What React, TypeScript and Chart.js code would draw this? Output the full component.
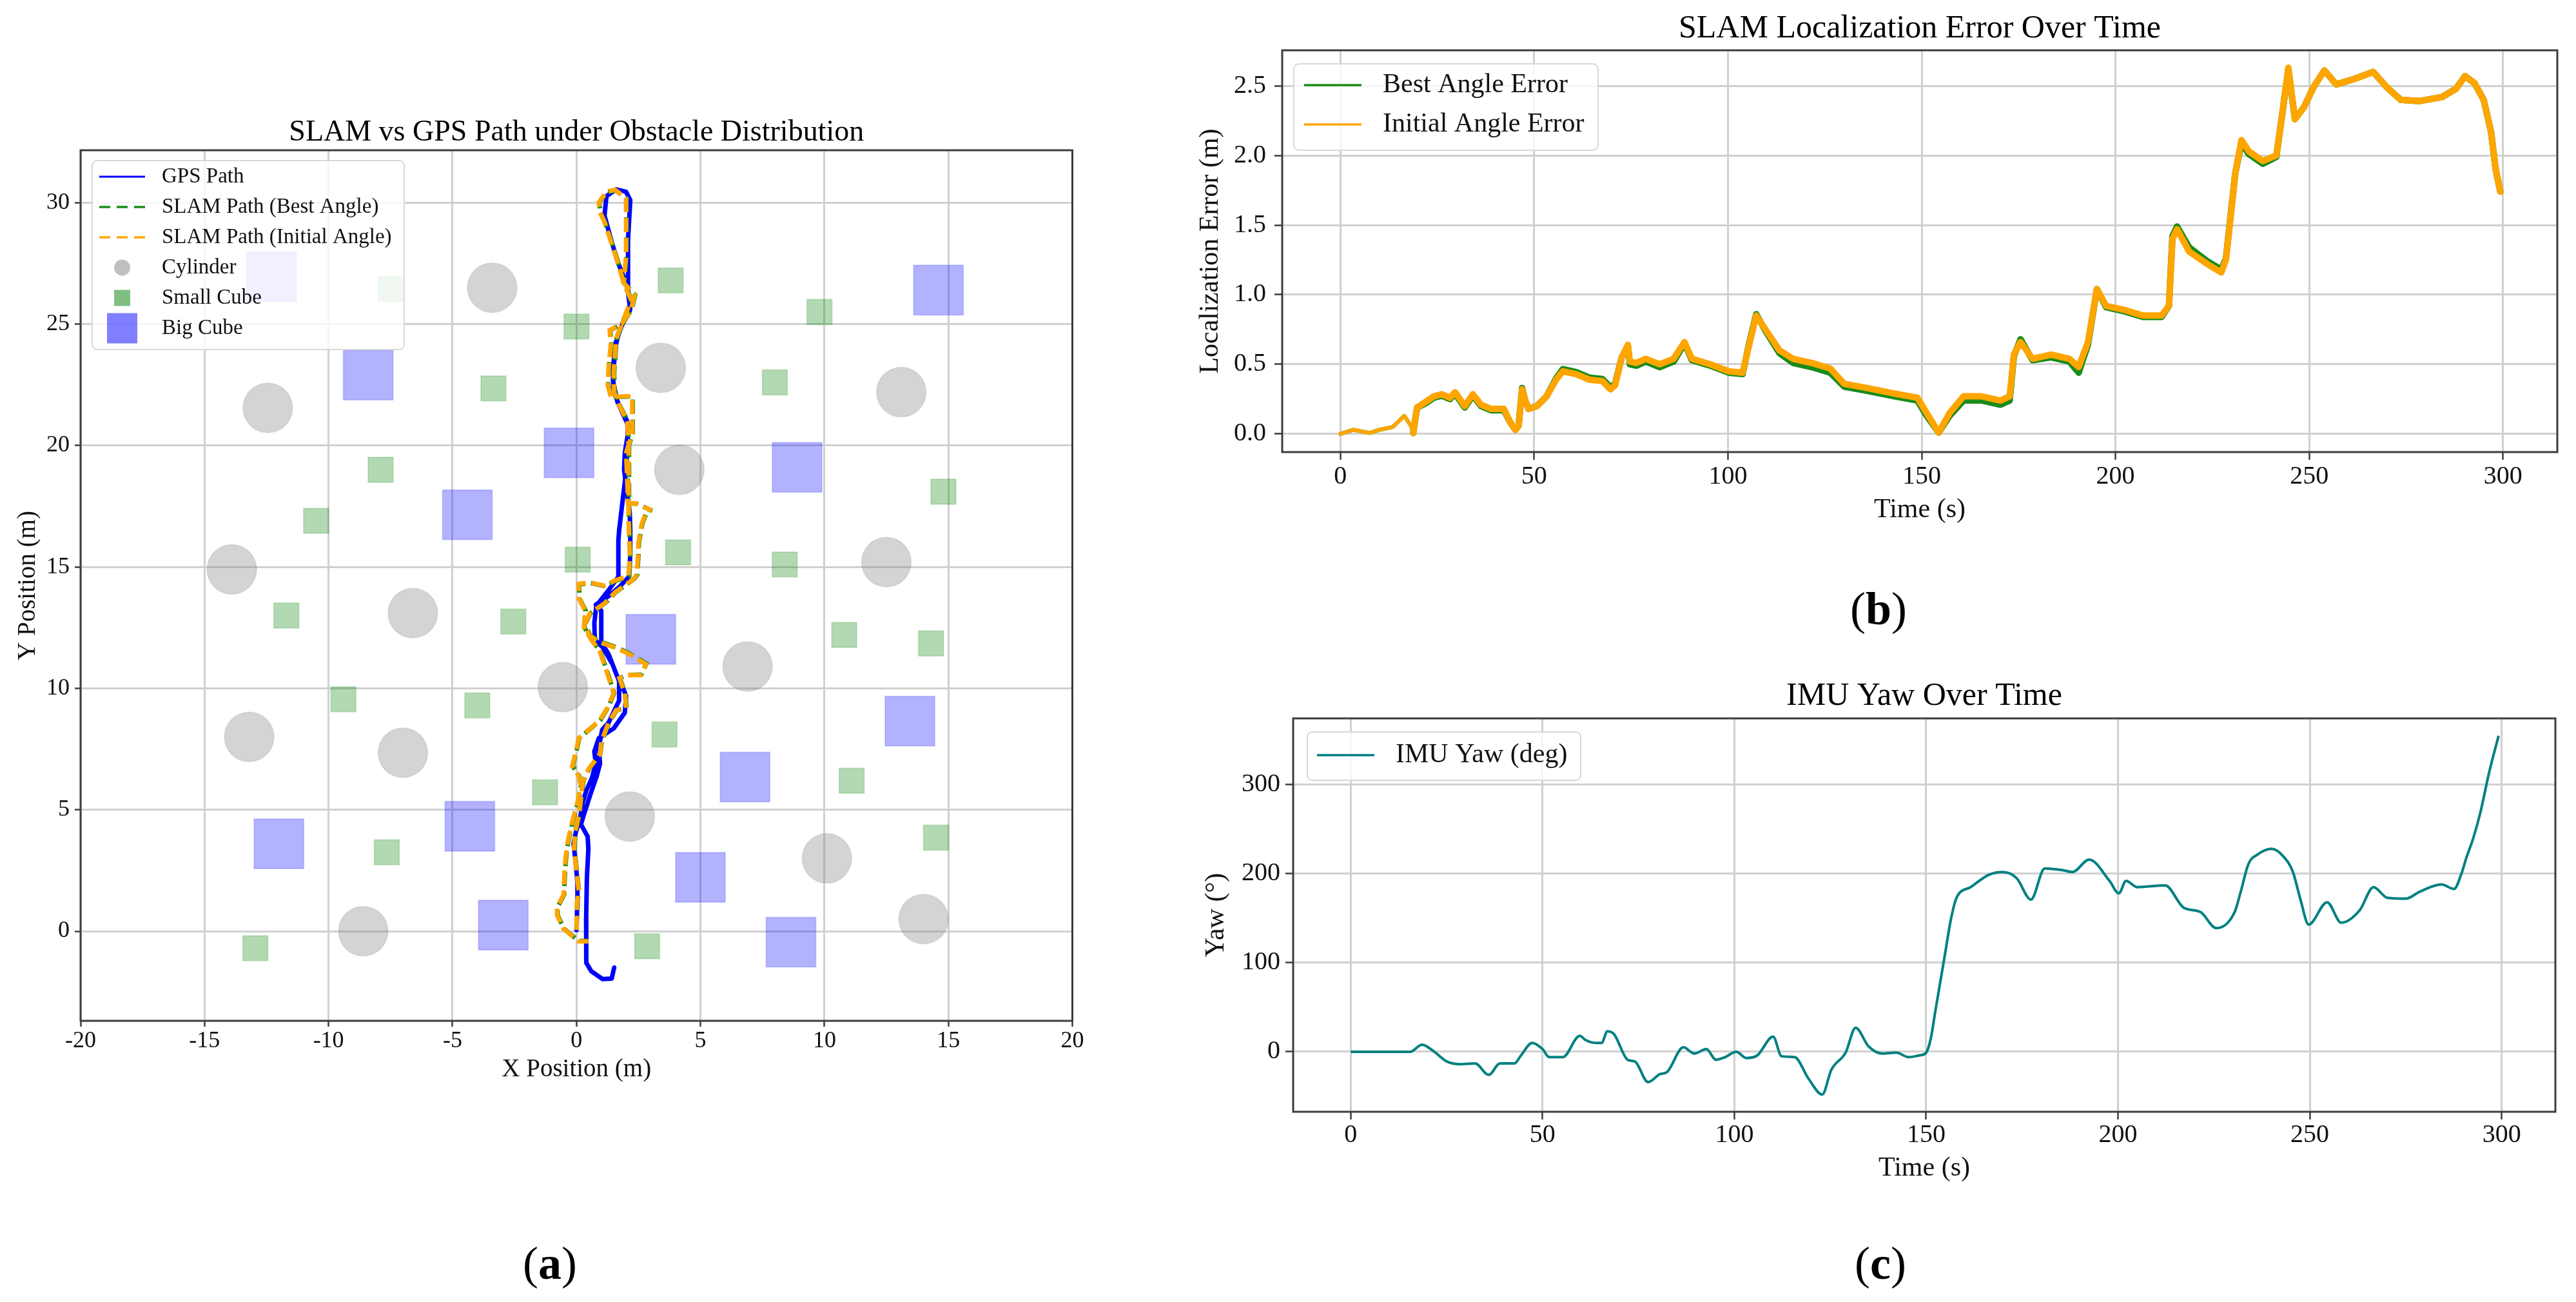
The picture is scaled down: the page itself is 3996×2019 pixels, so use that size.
import React, { useEffect, useRef } from 'react';
import { Chart, registerables } from 'chart.js';

Chart.register(...registerables);

const SERIF = "'Liberation Serif', 'Times New Roman', serif";
const GRID = '#d0d0d0';
const AXIS = '#3c3c3c';
const TEXT = '#111111';

// ---------- (a) obstacle map, metres ----------
const cylinders = [
  [-3.4, 26.5], [-12.45, 21.55], [3.4, 23.2], [13.1, 22.2], [4.15, 19.0], [12.5, 15.2],
  [-13.9, 14.9], [-6.6, 13.1], [6.9, 10.9], [-0.55, 10.05], [-13.2, 8.0], [-7.0, 7.35],
  [2.15, 4.72], [10.1, 3.0], [14.0, 0.5], [-8.6, 0.0],
];
const smallCubes = [
  [-7.5, 26.45], [3.8, 26.8], [0.0, 24.9], [9.8, 25.5], [-3.35, 22.35], [8.0, 22.6],
  [-7.9, 19.0], [14.8, 18.1], [-10.5, 16.9], [0.05, 15.3], [4.1, 15.6], [8.4, 15.1],
  [-11.7, 13.0], [-2.55, 12.75], [10.8, 12.2], [14.3, 11.85], [-9.4, 9.55], [-4.0, 9.3],
  [3.55, 8.1], [11.1, 6.2], [-1.27, 5.72], [-7.65, 3.25], [14.5, 3.85], [-12.95, -0.7],
  [2.85, -0.62],
];
const bigCubes = [
  [-12.3, 26.95], [14.6, 26.4], [-8.4, 22.9], [-0.3, 19.7], [8.9, 19.1], [-4.4, 17.15],
  [3.0, 12.02], [13.45, 8.65], [6.8, 6.35], [-4.3, 4.32], [-12.0, 3.6], [5.0, 2.22],
  [-2.95, 0.25], [8.65, -0.45],
];
const gpsPath = [
  [0.0, 0.05], [0.03, 1.0], [0.04, 2.0], [-0.05, 3.0], [-0.12, 3.6], [-0.02, 4.1], [0.12, 4.5],
  [0.25, 5.3], [0.4, 5.8], [0.62, 6.3], [0.78, 6.9], [0.72, 7.4], [0.9, 7.95], [1.5, 8.35],
  [1.95, 9.0], [2.0, 9.7], [1.78, 10.25], [1.62, 10.55], [1.3, 11.4], [1.0, 11.9], [1.0, 12.6],
  [1.0, 13.2], [0.78, 13.45], [1.3, 13.8], [1.75, 14.2], [2.12, 14.6], [2.17, 15.5], [2.17, 16.5],
  [2.15, 17.2], [2.05, 18.0], [1.92, 19.0], [1.95, 19.7], [2.12, 20.75], [1.65, 21.8], [1.47, 22.7],
  [1.56, 24.0], [1.73, 24.75], [2.17, 25.6], [2.08, 26.3], [2.08, 28.5], [2.17, 30.1], [2.0, 30.45],
  [1.6, 30.55], [1.21, 30.27], [1.13, 29.47], [1.39, 28.5], [1.65, 27.6], [2.0, 26.7],
  [2.2, 25.9], [1.85, 25.0], [1.6, 24.3], [1.47, 23.2], [1.5, 22.2], [1.75, 21.6], [2.05, 21.0],
  [2.08, 20.0], [1.95, 18.5], [1.72, 16.5], [1.69, 16.1], [1.69, 15.2], [1.69, 14.6], [1.3, 14.05],
  [0.8, 13.4], [0.72, 12.7], [0.74, 12.0], [1.05, 11.7], [1.45, 11.0], [1.72, 10.3], [1.72, 9.5],
  [1.3, 8.6], [1.04, 8.3], [0.9, 7.6], [0.95, 6.9], [0.82, 6.4], [0.55, 5.6], [0.3, 4.8],
  [0.18, 4.4], [0.45, 3.9], [0.48, 3.4], [0.42, 2.2], [0.39, 0.5], [0.39, -0.5], [0.4, -1.3],
  [0.6, -1.65], [1.05, -1.97], [1.42, -1.95], [1.52, -1.5],
];
const slamInitialPath = [
  [0.0, 0.05], [0.02, 1.2], [0.1, 1.6], [0.0, 2.5], [-0.1, 3.4], [-0.05, 4.1], [0.1, 4.8],
  [0.26, 6.2], [0.5, 6.7], [0.95, 7.3], [1.0, 7.8], [1.3, 8.6], [1.6, 9.1], [2.0, 9.2],
  [1.95, 9.8], [1.73, 10.42], [2.0, 10.55], [2.6, 10.55], [2.8, 11.0], [2.08, 11.44],
  [1.56, 11.68], [0.88, 11.92], [0.5, 12.2], [0.35, 12.7], [0.55, 13.1], [1.13, 13.5],
  [1.56, 13.96], [2.3, 14.5], [2.43, 14.67], [2.47, 15.3], [2.5, 16.0], [2.64, 16.8],
  [2.86, 17.38], [3.03, 17.33], [2.43, 17.6], [2.08, 17.64], [2.05, 18.5], [2.0, 19.7],
  [2.25, 20.5], [2.25, 21.5], [2.25, 22.04], [1.9, 22.02], [1.39, 22.0], [1.26, 22.5],
  [1.3, 23.3], [1.39, 24.2], [1.34, 24.75], [1.82, 25.0], [2.2, 25.6], [2.35, 26.2], [1.9, 26.7],
  [2.0, 27.8], [2.0, 29.4], [2.0, 30.18], [1.56, 30.53], [1.2, 30.45], [0.9, 30.0], [0.95, 29.6],
  [1.13, 29.2], [1.65, 27.6], [1.9, 26.7], [2.2, 26.0],
  [1.9, 25.2], [1.6, 24.4], [1.5, 23.0], [1.52, 22.2], [1.7, 21.7], [2.05, 21.0], [2.1, 20.0],
  [2.1, 18.5], [2.1, 17.0], [2.15, 15.5], [2.1, 14.63], [1.56, 14.45], [1.13, 14.23],
  [0.52, 14.36], [0.09, 14.3], [0.1, 13.7], [0.35, 13.2], [0.3, 12.5], [0.6, 12.0], [0.95, 11.5],
  [1.25, 10.6], [1.5, 9.8], [1.25, 9.2], [0.95, 8.7], [0.5, 8.3], [0.09, 7.95], [0.0, 7.5],
  [-0.17, 6.8], [0.09, 6.4], [0.17, 6.0], [0.04, 5.3], [-0.17, 4.5], [-0.35, 3.7], [-0.43, 3.1],
  [-0.48, 2.5], [-0.52, 1.5], [-0.78, 1.0], [-0.78, 0.66], [-0.52, 0.1], [-0.17, -0.2],
  [0.09, -0.42], [0.48, -0.42],
];
// best-angle path runs almost on top of the initial-angle one
const slamBestPath = [
  [0.0, 0.05], [0.03, 1.2], [0.11, 1.6], [0.01, 2.5], [-0.08, 3.4], [-0.04, 4.1], [0.12, 4.8],
  [0.28, 6.2], [0.52, 6.7], [0.96, 7.3], [1.02, 7.8], [1.32, 8.6], [1.62, 9.1], [2.02, 9.2],
  [1.97, 9.8], [1.75, 10.42], [2.02, 10.55], [2.62, 10.57], [2.82, 11.02], [2.1, 11.46],
  [1.58, 11.7], [0.9, 11.94], [0.52, 12.22], [0.37, 12.7], [0.57, 13.1], [1.15, 13.5],
  [1.58, 13.96], [2.32, 14.5], [2.45, 14.67], [2.49, 15.3], [2.52, 16.0], [2.66, 16.8],
  [2.88, 17.37], [3.05, 17.32], [2.45, 17.6], [2.1, 17.63], [2.07, 18.5], [2.02, 19.7],
  [2.27, 20.5], [2.27, 21.5], [2.27, 22.03], [1.92, 22.01], [1.41, 22.0], [1.28, 22.5],
  [1.32, 23.3], [1.41, 24.2], [1.36, 24.75], [1.84, 25.0], [2.22, 25.6], [2.37, 26.2], [1.92, 26.7],
  [2.02, 27.8], [2.02, 29.4], [2.02, 30.16], [1.58, 30.51], [1.22, 30.43], [0.92, 30.0], [0.97, 29.6],
  [1.15, 29.2], [1.67, 27.6], [1.92, 26.7], [2.22, 26.0],
  [1.92, 25.2], [1.62, 24.4], [1.52, 23.0], [1.54, 22.2], [1.72, 21.7], [2.07, 21.0], [2.12, 20.0],
  [2.12, 18.5], [2.12, 17.0], [2.17, 15.5], [2.12, 14.61], [1.58, 14.43], [1.15, 14.21],
  [0.54, 14.34], [0.11, 14.28], [0.12, 13.7], [0.37, 13.2], [0.32, 12.5], [0.62, 12.0], [0.97, 11.5],
  [1.27, 10.6], [1.52, 9.8], [1.27, 9.2], [0.97, 8.7], [0.52, 8.3], [0.11, 7.95], [0.02, 7.5],
  [-0.15, 6.8], [0.11, 6.4], [0.19, 6.0], [0.06, 5.3], [-0.15, 4.5], [-0.33, 3.7], [-0.41, 3.1],
  [-0.46, 2.5], [-0.5, 1.5], [-0.76, 1.0], [-0.76, 0.66], [-0.5, 0.1], [-0.15, -0.2],
  [0.1, -0.4], [0.47, -0.4],
];
const mapTicksX = [-20, -15, -10, -5, 0, 5, 10, 15, 20];
const mapTicksY = [0, 5, 10, 15, 20, 25, 30];

// ---------- (b) localization error ----------
const errTime = [
  0, 3.4, 7.6, 10.1, 13.5, 16.5, 18.2, 18.8, 19.8, 22, 24.1, 26.2, 28.3, 29.6, 32.1, 34.2, 36.3,
  38.9, 42.2, 43.9, 45.2, 46, 46.9, 47.7, 48.6, 50.7, 53.2, 55.7, 57.4, 60.8, 64.2, 67.6, 69.7,
  70.9, 72.6, 74.2, 74.7, 76.4,
  78.8, 82.4, 86, 88.8, 90.7, 95.5, 100.2, 103.8, 105.4, 107.3, 109.7, 113.3, 116.8, 121.6, 126.4,
  130, 135.9, 143, 148.9, 151.3, 154.4, 157.2, 160.8, 165.5, 170.3, 172.7, 173.8, 175.5, 178.6,
  183.4, 188.1, 190.5, 192.9, 195.2, 197.6, 202.4, 207.1, 211.9, 213.8, 214.7, 215.9, 219, 223.7,
  227.3, 228.5, 230.9, 232.5, 234.4, 238, 241.5, 242.7, 244.6, 246.3, 248.7, 251.1, 253.9, 257,
  261.7, 266.5, 270, 273.6, 278.3, 284.3, 287.9, 290.2, 292.6, 295, 296.9, 298.1, 299.3,
];
const errInitial = [
  0.0, 0.03, 0.007, 0.03, 0.05, 0.13, 0.06, 0.007, 0.19, 0.23, 0.27, 0.285, 0.26, 0.3, 0.2, 0.285,
  0.21, 0.18, 0.18, 0.08, 0.03, 0.06, 0.32, 0.24, 0.18, 0.2, 0.27, 0.39, 0.45, 0.43, 0.39, 0.38,
  0.32, 0.35, 0.55, 0.64, 0.52, 0.51,
  0.54, 0.5, 0.54, 0.66, 0.54, 0.5, 0.45, 0.44, 0.63, 0.85, 0.75, 0.6, 0.54, 0.51, 0.47, 0.36, 0.33,
  0.29, 0.26, 0.15, 0.01, 0.15, 0.27, 0.27, 0.24, 0.27, 0.57, 0.66, 0.54, 0.57, 0.54, 0.48, 0.66,
  1.04, 0.92, 0.89, 0.85, 0.85, 0.92, 1.4, 1.47, 1.31, 1.22, 1.16, 1.25, 1.87, 2.11, 2.03, 1.96,
  2.0, 2.23, 2.63, 2.26, 2.35, 2.49, 2.61, 2.51, 2.55, 2.6, 2.49, 2.4, 2.39, 2.42, 2.48, 2.57,
  2.52, 2.4, 2.17, 1.9, 1.74,
];
const errBest = [
  0.0, 0.03, 0.007, 0.03, 0.05, 0.13, 0.06, 0.007, 0.19, 0.22, 0.26, 0.275, 0.25, 0.29, 0.19,
  0.275, 0.2, 0.17, 0.17, 0.08, 0.03, 0.06, 0.33, 0.24, 0.18, 0.2, 0.27, 0.4, 0.465, 0.445, 0.405,
  0.395, 0.335, 0.36, 0.55, 0.63, 0.5, 0.49,
  0.52, 0.48, 0.52, 0.65, 0.53, 0.49, 0.44, 0.43, 0.64, 0.86, 0.74, 0.58, 0.51, 0.48, 0.44, 0.34,
  0.31, 0.27, 0.24, 0.13, 0.01, 0.13, 0.24, 0.24, 0.21, 0.24, 0.56, 0.68, 0.53, 0.55, 0.52, 0.44,
  0.64, 1.04, 0.91, 0.88, 0.84, 0.84, 0.92, 1.42, 1.49, 1.34, 1.24, 1.18, 1.26, 1.87, 2.09, 2.01,
  1.94, 1.99, 2.23, 2.62, 2.26, 2.35, 2.49, 2.61, 2.51, 2.55, 2.6, 2.49, 2.4, 2.39, 2.42, 2.48,
  2.57, 2.52, 2.4, 2.17, 1.9, 1.74,
];
const errTicksX = [0, 50, 100, 150, 200, 250, 300];
const errTicksY = [0, 0.5, 1, 1.5, 2, 2.5];

// ---------- (c) IMU yaw ----------
const yawTime = [
  0, 15.5, 18.6, 21.5, 25.1, 28.7, 32.4, 36, 38.9, 42.7, 44.4, 47.3, 50, 51.7, 55.3, 59.7, 61.3,
  63.8, 65.4, 66.9, 68.6, 72.2, 74.1, 77.5, 80.7, 82.4, 86.7, 89.6, 92.7, 95.2, 97.6, 100.5, 103.1,
  106, 110.1, 112.3, 115.7, 119.3, 122.9, 125.3, 129, 131.6, 135, 138.6, 142.2, 145.4, 148.3, 150,
  151.2, 152.4, 154.8, 156.5, 157.9, 161.6, 166.4, 170, 173.6, 177.3, 180.9, 185.7, 188.1, 192.5,
  197.8, 200.2, 202.1, 205, 212.3, 217.1, 221.5, 225.6, 230.4, 232, 234, 236.5, 240, 243, 245.6,
  247.5, 249.7, 254.5, 258.2, 263, 266.6, 270.2, 275, 278.7, 284.3, 287.6, 289.5, 290.8, 292.6,
  294.4, 296.8, 299.2,
];
const yawDeg = [
  0, 0, 8, 1, -11, -14, -13, -26, -13, -13, -4, 10, 3, -6, -6, 18, 13, 10, 10, 23, 20, -9, -11,
  -34, -25, -23, 5, -2, 3, -9, -6, 0, -7, -4, 17, -5, -6, -30, -48, -20, -1, 27, 6, -2, -1, -6,
  -4, -1, 15, 46, 107, 150, 173, 185, 199, 202, 195, 171, 206, 204, 202, 216, 192, 178, 192, 185,
  187, 162, 157, 139, 157, 180, 211, 222, 228, 220, 202, 172, 143, 168, 145, 159, 185, 173, 172,
  180, 188, 183, 200, 218, 240, 268, 315, 355,
];
const yawTicksX = [0, 50, 100, 150, 200, 250, 300];
const yawTicksY = [0, 100, 200, 300];

const xy = (pts: number[][]) => pts.map(([x, y]) => ({ x, y }));
const series = (t: number[], v: number[]) => t.map((x, i) => ({ x, y: v[i] }));

interface AxisSpec {
  min: number;
  max: number;
  ticks: number[];
  horizontal: boolean;
  size: number;
  tickLen: number;
  tickPad: number;
  tickSize: number;
  title: string;
  titleSize: number;
  titlePad: number;
  fmt?: (v: number) => string;
}

const axis = (s: AxisSpec) => ({
  type: 'linear',
  min: s.min,
  max: s.max,
  afterBuildTicks: (scale: any) => {
    scale.ticks = s.ticks.map((value) => ({ value }));
  },
  afterFit: (scale: any) => {
    if (s.horizontal) scale.height = s.size;
    else scale.width = s.size;
    scale.paddingLeft = 0;
    scale.paddingRight = 0;
    scale.paddingTop = 0;
    scale.paddingBottom = 0;
  },
  border: { display: false },
  grid: { color: GRID, lineWidth: 3, tickLength: s.tickLen, tickColor: AXIS, tickWidth: 2.5 },
  ticks: {
    color: TEXT,
    padding: s.tickPad,
    font: { family: SERIF, size: s.tickSize },
    callback: (v: any) => (s.fmt ? s.fmt(Number(v)) : String(v)),
  },
  title: {
    display: true,
    text: s.title,
    color: TEXT,
    font: { family: SERIF, size: s.titleSize },
    padding: s.horizontal ? { top: 0, bottom: s.titlePad } : { top: s.titlePad, bottom: 0 },
  },
});

const chartTitle = (text: string, size: number, top: number, bottom: number) => ({
  display: true,
  text,
  fullSize: false,
  color: '#000',
  font: { family: SERIF, size, weight: 'normal', lineHeight: 1 },
  padding: { top, bottom },
});

// box round the plot, like matplotlib spines
const framePlugin = {
  id: 'frame',
  afterDraw(chart: any) {
    const { ctx, chartArea: a } = chart;
    ctx.save();
    ctx.strokeStyle = AXIS;
    ctx.lineWidth = 3;
    ctx.strokeRect(a.left, a.top, a.right - a.left, a.bottom - a.top);
    ctx.restore();
  },
};

interface LegendItem {
  label: string;
  kind: 'line' | 'circle' | 'square';
  color: string;
  width?: number;
  dash?: number[];
  size?: number;
}
interface LegendCfg {
  x: number; y: number; w: number; h: number;
  first: number; step: number;
  hx0: number; hx1: number; tx: number;
  font: number;
  items: LegendItem[];
}

// legend drawn inside the plot (upper left), offsets relative to the chart area
const makeLegend = (cfg: LegendCfg) => ({
  id: 'boxLegend',
  afterDatasetsDraw(chart: any) {
    const { ctx, chartArea } = chart;
    const L = chartArea.left;
    const T = chartArea.top;
    ctx.save();
    ctx.beginPath();
    ctx.roundRect(L + cfg.x, T + cfg.y, cfg.w, cfg.h, 8);
    ctx.fillStyle = 'rgba(255,255,255,0.8)';
    ctx.fill();
    ctx.lineWidth = 2;
    ctx.strokeStyle = '#d8d8d8';
    ctx.stroke();
    cfg.items.forEach((it, i) => {
      const cy = T + cfg.first + i * cfg.step;
      const mx = L + (cfg.hx0 + cfg.hx1) / 2;
      if (it.kind === 'line') {
        ctx.beginPath();
        ctx.setLineDash(it.dash || []);
        ctx.lineWidth = it.width || 3;
        ctx.strokeStyle = it.color;
        ctx.moveTo(L + cfg.hx0, cy);
        ctx.lineTo(L + cfg.hx1, cy);
        ctx.stroke();
        ctx.setLineDash([]);
      } else if (it.kind === 'circle') {
        ctx.beginPath();
        ctx.arc(mx, cy, it.size || 10, 0, Math.PI * 2);
        ctx.fillStyle = it.color;
        ctx.fill();
      } else {
        const s = it.size || 20;
        ctx.fillStyle = it.color;
        ctx.fillRect(mx - s / 2, cy - s / 2, s, s);
      }
      ctx.font = `${cfg.font}px ${SERIF}`;
      ctx.textBaseline = 'middle';
      ctx.textAlign = 'left';
      ctx.fillStyle = TEXT;
      ctx.fillText(it.label, L + cfg.tx, cy);
    });
    ctx.restore();
  },
});

const mapConfig = (): any => ({
  type: 'scatter',
  data: {
    datasets: [
      { data: xy(slamInitialPath), showLine: true, borderColor: '#ffa500', borderWidth: 7,
        borderDash: [22, 9], pointRadius: 0, order: 0 },
      { data: xy(slamBestPath), showLine: true, borderColor: '#1a8c1a', borderWidth: 7,
        borderDash: [22, 9], pointRadius: 0, order: 1 },
      { data: xy(gpsPath), showLine: true, borderColor: '#0000ff', borderWidth: 7, pointRadius: 0,
        borderJoinStyle: 'round', borderCapStyle: 'round', order: 2 },
      { data: xy(bigCubes), pointStyle: 'rect', pointRadius: 54.5, backgroundColor: 'rgba(0,0,255,0.3)',
        borderColor: 'rgba(0,0,255,0.15)', borderWidth: 2, order: 3 },
      { data: xy(smallCubes), pointStyle: 'rect', pointRadius: 27.5, backgroundColor: 'rgba(0,128,0,0.3)',
        borderColor: 'rgba(0,128,0,0.15)', borderWidth: 2, order: 4 },
      { data: xy(cylinders), pointStyle: 'circle', pointRadius: 38.5,
        backgroundColor: 'rgba(128,128,128,0.34)', borderColor: 'rgba(128,128,128,0.15)', borderWidth: 2, order: 5 },
    ],
  },
  options: {
    responsive: false,
    animation: false,
    events: [],
    layout: { padding: { left: 0, right: 54, top: 0, bottom: 0 } },
    plugins: {
      legend: { display: false },
      tooltip: { enabled: false },
      title: chartTitle('SLAM vs GPS Path under Obstacle Distribution', 46, 183, 4),
    },
    scales: {
      x: axis({ min: -20, max: 20, ticks: mapTicksX, horizontal: true, size: 137, tickLen: 9, tickPad: 1,
        tickSize: 36, title: 'X Position (m)', titleSize: 39, titlePad: 37.6 }),
      y: axis({ min: -3.69, max: 32.16, ticks: mapTicksY, horizontal: false, size: 125, tickLen: 9, tickPad: 8,
        tickSize: 36, title: 'Y Position (m)', titleSize: 39, titlePad: 20.6 }),
    },
  },
  plugins: [
    framePlugin,
    makeLegend({
      x: 18, y: 16, w: 484, h: 293, first: 41, step: 47, hx0: 29, hx1: 100, tx: 126, font: 33,
      items: [
        { label: 'GPS Path', kind: 'line', color: '#0000ff', width: 3 },
        { label: 'SLAM Path (Best Angle)', kind: 'line', color: '#1a8c1a', width: 3.5, dash: [17, 10] },
        { label: 'SLAM Path (Initial Angle)', kind: 'line', color: '#ffa500', width: 3.5, dash: [17, 10] },
        { label: 'Cylinder', kind: 'circle', color: 'rgba(128,128,128,0.5)', size: 12.5 },
        { label: 'Small Cube', kind: 'square', color: 'rgba(0,128,0,0.5)', size: 25 },
        { label: 'Big Cube', kind: 'square', color: 'rgba(0,0,255,0.5)', size: 47 },
      ],
    }),
  ],
});

const errorConfig = (): any => ({
  type: 'line',
  data: {
    datasets: [
      { data: series(errTime, errInitial), borderColor: '#ffa500', borderWidth: 10, pointRadius: 0,
        borderJoinStyle: 'round', borderCapStyle: 'round', order: 0,
        segment: { borderWidth: (c: any) => (c.p1.parsed.x <= 19 ? 6 : 10) } },
      { data: series(errTime, errBest), borderColor: '#1a8c1a', borderWidth: 10, pointRadius: 0,
        borderJoinStyle: 'round', borderCapStyle: 'round', order: 1,
        segment: { borderWidth: (c: any) => (c.p1.parsed.x <= 19 ? 6 : 10) } },
    ],
  },
  options: {
    responsive: false,
    animation: false,
    events: [],
    layout: { padding: { left: 0, right: 29, top: 0, bottom: 0 } },
    plugins: {
      legend: { display: false },
      tooltip: { enabled: false },
      title: chartTitle('SLAM Localization Error Over Time', 50, 20, 8),
    },
    scales: {
      x: axis({ min: -15, max: 314, ticks: errTicksX, horizontal: true, size: 149, tickLen: 12, tickPad: 2,
        tickSize: 40, title: 'Time (s)', titleSize: 42, titlePad: 33.8 }),
      y: axis({ min: -0.13, max: 2.755, ticks: errTicksY, horizontal: false, size: 209, tickLen: 12, tickPad: 13,
        tickSize: 40, title: 'Localization Error (m)', titleSize: 42, titlePad: 72.8, fmt: (v) => v.toFixed(1) }),
    },
  },
  plugins: [
    framePlugin,
    makeLegend({
      x: 18, y: 21, w: 472, h: 134, first: 54, step: 61, hx0: 34, hx1: 123, tx: 156, font: 42,
      items: [
        { label: 'Best Angle Error', kind: 'line', color: '#1a8c1a', width: 3.5 },
        { label: 'Initial Angle Error', kind: 'line', color: '#ffa500', width: 3.5 },
      ],
    }),
  ],
});

const yawConfig = (): any => ({
  type: 'line',
  data: {
    datasets: [
      { data: series(yawTime, yawDeg), borderColor: '#008080', borderWidth: 4, pointRadius: 0,
        cubicInterpolationMode: 'monotone', borderJoinStyle: 'round' },
    ],
  },
  options: {
    responsive: false,
    animation: false,
    events: [],
    layout: { padding: { left: 0, right: 32, top: 0, bottom: 0 } },
    plugins: {
      legend: { display: false },
      tooltip: { enabled: false },
      title: chartTitle('IMU Yaw Over Time', 50, 55, 9),
    },
    scales: {
      x: axis({ min: -15, max: 314, ticks: yawTicksX, horizontal: true, size: 176, tickLen: 12, tickPad: 0,
        tickSize: 40, title: 'Time (s)', titleSize: 42, titlePad: 62.8 }),
      y: axis({ min: -67.4, max: 374.6, ticks: yawTicksY, horizontal: false, size: 226, tickLen: 12, tickPad: 8,
        tickSize: 40, title: 'Yaw (°)', titleSize: 42, titlePad: 81.8 }),
    },
  },
  plugins: [
    framePlugin,
    makeLegend({
      x: 22, y: 21, w: 424, h: 75, first: 57, step: 0, hx0: 37, hx1: 126, tx: 159, font: 42,
      items: [{ label: 'IMU Yaw (deg)', kind: 'line', color: '#008080', width: 3.5 }],
    }),
  ],
});

const Caption: React.FC<{ letter: string; cx: number; cy: number }> = ({ letter, cx, cy }) => (
  <div
    style={{
      position: 'absolute',
      left: cx,
      top: cy - 6,
      transform: 'translate(-50%, -50%)',
      fontFamily: SERIF,
      fontSize: 72,
      lineHeight: 1,
      color: '#000',
      whiteSpace: 'nowrap',
    }}
  >
    (<b>{letter}</b>)
  </div>
);

export default function App() {
  const mapRef = useRef<HTMLCanvasElement>(null);
  const errRef = useRef<HTMLCanvasElement>(null);
  const yawRef = useRef<HTMLCanvasElement>(null);

  useEffect(() => {
    if (!mapRef.current || !errRef.current || !yawRef.current) return;
    const charts = [
      new Chart(mapRef.current, mapConfig()),
      new Chart(errRef.current, errorConfig()),
      new Chart(yawRef.current, yawConfig()),
    ];
    return () => charts.forEach((c) => c.destroy());
  }, []);

  return (
    <div style={{ position: 'absolute', left: 0, top: 0, width: 3996, height: 2019, background: '#fff', overflow: 'hidden' }}>
      <canvas ref={mapRef} width={1720} height={1720} style={{ position: 'absolute', left: 0, top: 0 }} />
      <canvas ref={errRef} width={2216} height={850} style={{ position: 'absolute', left: 1780, top: 0 }} />
      <canvas ref={yawRef} width={2216} height={900} style={{ position: 'absolute', left: 1780, top: 1000 }} />
      <Caption letter="a" cx={853} cy={1965} />
      <Caption letter="b" cx={2914} cy={950} />
      <Caption letter="c" cx={2917} cy={1965} />
    </div>
  );
}
